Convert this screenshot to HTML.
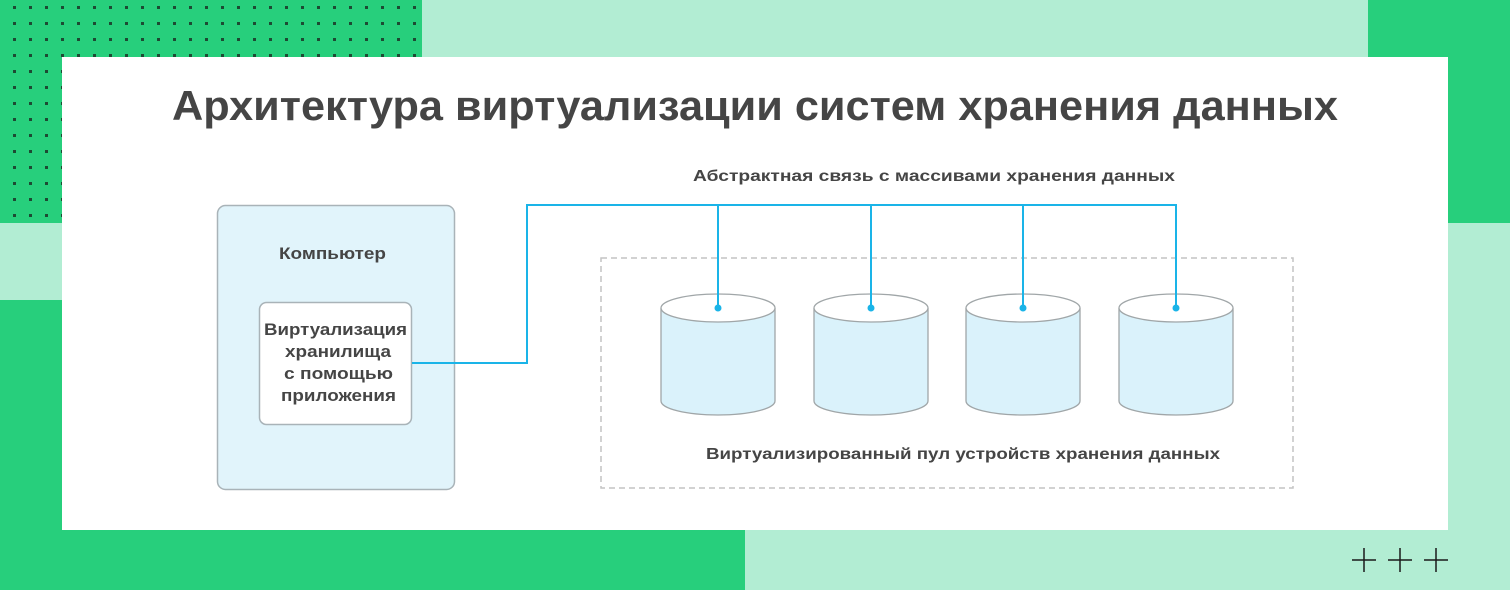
<!DOCTYPE html>
<html><head><meta charset="utf-8"><style>
body{margin:0;width:1510px;height:590px;overflow:hidden;background:#b2edd3;font-family:"Liberation Sans","DejaVu Sans",sans-serif}
</style></head><body>
<svg width="1510" height="590" viewBox="0 0 1510 590" xmlns="http://www.w3.org/2000/svg" style="position:absolute;left:0;top:0">
<defs><pattern id="d" x="13" y="6" width="16" height="16" patternUnits="userSpaceOnUse"><rect x="0" y="0" width="3" height="3" fill="#1d4a33"/></pattern></defs>
<rect x="0" y="0" width="1510" height="590" fill="#b2edd3"/>
<rect x="0" y="0" width="422" height="223" fill="#27cf7c"/>
<rect x="0" y="0" width="422" height="223" fill="url(#d)"/>
<rect x="0" y="300" width="745" height="290" fill="#27cf7c"/>
<rect x="1368" y="0" width="142" height="223" fill="#27cf7c"/>
<rect x="62" y="57" width="1386" height="473" fill="#fff"/>
<text x="172" y="120" textLength="1166" lengthAdjust="spacingAndGlyphs" font-size="42" font-weight="bold" fill="#454545">Архитектура виртуализации систем хранения данных</text>
<text x="693" y="181" textLength="482" lengthAdjust="spacingAndGlyphs" font-size="16" font-weight="bold" fill="#454545">Абстрактная связь с массивами хранения данных</text>
<rect x="217.5" y="205.5" width="237" height="284" rx="8" fill="#e1f4fb" stroke="#a9b3b8" stroke-width="1.5"/>
<text x="279" y="259" textLength="107" lengthAdjust="spacingAndGlyphs" font-size="17" font-weight="bold" fill="#454545">Компьютер</text>
<rect x="259.5" y="302.5" width="152" height="122" rx="7" fill="#fff" stroke="#a9b3b8" stroke-width="1.5"/>
<g font-size="17" font-weight="bold" fill="#454545">
<text x="264" y="335" textLength="143" lengthAdjust="spacingAndGlyphs">Виртуализация</text>
<text x="285" y="357" textLength="106" lengthAdjust="spacingAndGlyphs">хранилища</text>
<text x="284" y="379" textLength="109" lengthAdjust="spacingAndGlyphs">с помощью</text>
<text x="281" y="401" textLength="115" lengthAdjust="spacingAndGlyphs">приложения</text>
</g>
<rect x="601" y="258" width="692" height="230" fill="none" stroke="#c4c4c4" stroke-width="1.5" stroke-dasharray="6,4"/>
<g fill="#daf2fb" stroke="#a0a6a8" stroke-width="1.3">
<g id="c"><path d="M661 308 V401 A57 14 0 0 0 775 401 V308"/><ellipse cx="718" cy="308" rx="57" ry="14" fill="#fff"/></g>
<use href="#c" x="153"/><use href="#c" x="305"/><use href="#c" x="458"/>
</g>
<g stroke="#1ab4e8" stroke-width="2" fill="none">
<path d="M412 363 H527 V205 H1176 V308"/>
<path d="M718 205 V308 M871 205 V308 M1023 205 V308"/>
</g>
<g fill="#1ab4e8"><circle cx="718" cy="308" r="3.5"/><circle cx="871" cy="308" r="3.5"/><circle cx="1023" cy="308" r="3.5"/><circle cx="1176" cy="308" r="3.5"/></g>
<text x="706" y="459" textLength="514" lengthAdjust="spacingAndGlyphs" font-size="16" font-weight="bold" fill="#454545">Виртуализированный пул устройств хранения данных</text>
<g stroke="#1a1a1a" stroke-width="1.5">
<path d="M1352 560 H1376 M1364 548 V572 M1388 560 H1412 M1400 548 V572 M1424 560 H1448 M1436 548 V572"/>
</g>
</svg>
</body></html>
